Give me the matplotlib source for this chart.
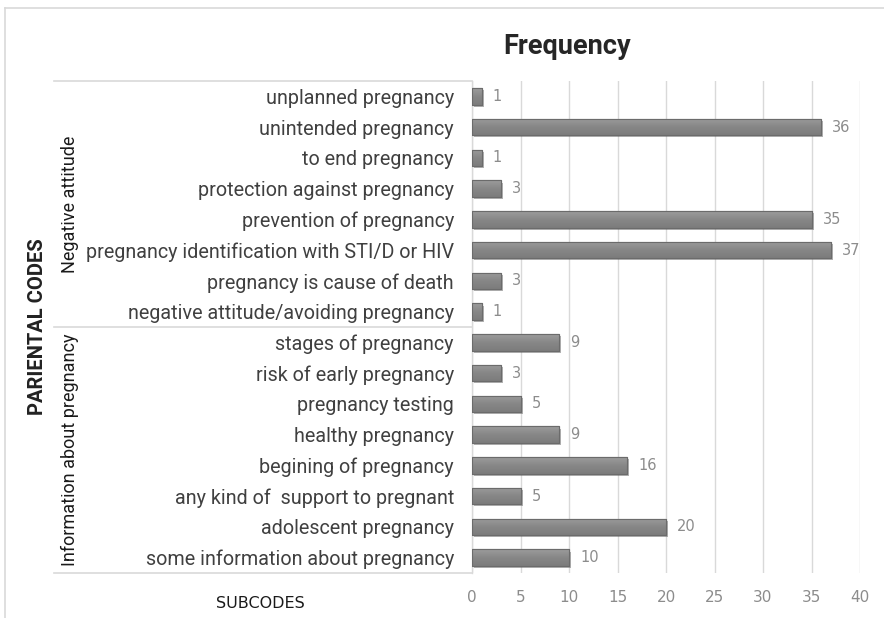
import numpy as np
import matplotlib
matplotlib.use("Agg")
import matplotlib.pyplot as plt
from matplotlib import patheffects as pe
from matplotlib.lines import Line2D

# Sub-codes listed top to bottom, with their frequencies
subcodes = [
    "unplanned pregnancy",
    "unintended pregnancy",
    "to end pregnancy",
    "protection against pregnancy",
    "prevention of pregnancy",
    "pregnancy identification with STI/D or HIV",
    "pregnancy is cause of death",
    "negative attitude/avoiding pregnancy",
    "stages of pregnancy",
    "risk of early pregnancy",
    "pregnancy testing",
    "healthy pregnancy",
    "begining of pregnancy",
    "any kind of  support to pregnant",
    "adolescent pregnancy",
    "some information about pregnancy",
]
frequency = [1, 36, 1, 3, 35, 37, 3, 1, 9, 3, 5, 9, 16, 5, 20, 10]

# Parent codes and how many sub-codes each one covers (top to bottom)
parent_codes = ["Negative attitude", "Information about pregnancy"]
parent_sizes = [8, 8]

x_ticks = [0, 5, 10, 15, 20, 25, 30, 35, 40]

W, H = 884, 618
fig = plt.figure(figsize=(W / 100, H / 100), dpi=100)
fig.patch.set_facecolor("white")

def fx(px):
    return px / W

def fy(py):
    return 1 - py / H

ax_left, ax_right, ax_top, ax_bot = 472, 860, 81, 573
ax = fig.add_axes([fx(ax_left), fy(ax_bot), fx(ax_right - ax_left), (ax_bot - ax_top) / H])

n = len(subcodes)
ypos = np.arange(n)
bars = ax.barh(ypos, frequency, height=0.53, color="#8d8d8d", edgecolor="#6b6b6b",
               linewidth=0.8, zorder=3)

# soft vertical shading and drop shadow on each bar
grad = np.linspace(0, 1, 64).reshape(-1, 1)
shade = matplotlib.colors.LinearSegmentedColormap.from_list("g", ["#9c9c9c", "#878787", "#7c7c7c"])
for b in bars:
    b.set_path_effects([pe.SimplePatchShadow(offset=(1.5, -1.5), shadow_rgbFace="#555555", alpha=0.45),
                        pe.Normal()])
    x0, y0 = b.get_x(), b.get_y()
    w, h = b.get_width(), b.get_height()
    im = ax.imshow(grad, cmap=shade, extent=[x0, x0 + w, y0 + h, y0], aspect="auto",
                   zorder=3.5, interpolation="bilinear")
    im.set_clip_path(b)
    ax.add_patch(matplotlib.patches.Rectangle((x0, y0), w, h, fill=False, edgecolor="#6b6b6b",
                                              linewidth=0.8, zorder=4))

num_font = ["Liberation Sans Narrow", "DejaVu Sans"]
label_font = ["Roboto", "DejaVu Sans"]
for y, v in zip(ypos, frequency):
    ax.annotate(str(v), (v, y), xytext=(8, 0), textcoords="offset points",
                va="center", ha="left", fontsize=10.5, color="#8c8c8c", family=num_font)

ax.set_xlim(0, 40)
ax.set_ylim(n - 0.5, -0.5)
ax.set_xticks(x_ticks)
ax.set_xticklabels([str(t) for t in x_ticks], family=num_font, fontsize=11, color="#8c8c8c")
ax.tick_params(axis="x", length=0, pad=12)
ax.set_yticks(ypos)
ax.set_yticklabels(subcodes, family=label_font, fontsize=14.2, color="#404040")
ax.tick_params(axis="y", length=0, pad=13)
ax.grid(axis="x", color="#d9d9d9", linewidth=1, zorder=0)
for s in ["top", "right", "bottom"]:
    ax.spines[s].set_visible(False)
ax.spines["left"].set_color("#d9d9d9")
ax.spines["left"].set_linewidth(1)
ax.set_facecolor("none")

# horizontal rules around the parent-code groups
rule_left = 54
edges = [0]
for s in parent_sizes:
    edges.append(edges[-1] + s)
row_px = (ax_bot - ax_top) / n
for e in edges:
    yy = ax_top + e * row_px
    fig.add_artist(Line2D([fx(rule_left), fx(ax_left)], [fy(yy), fy(yy)],
                          color="#d9d9d9", linewidth=1.2))

for name, a, b in zip(parent_codes, edges[:-1], edges[1:]):
    yc = ax_top + (a + b) / 2 * row_px
    fig.text(fx(70), fy(yc), name, rotation=90, ha="center", va="center",
             fontsize=13, color="#1a1a1a", family=label_font)

fig.text(fx(38), fy((ax_top + ax_bot) / 2), "PARIENTAL CODES", rotation=90, ha="center",
         va="center", fontsize=14.5, fontweight="bold", color="#222222", family=label_font)

fig.text(fx(567), fy(46), "Frequency", ha="center", va="center", fontsize=19.5,
         fontweight="bold", color="#262626", family=label_font)

fig.text(fx(260), fy(603), "SUBCODES", ha="center", va="center", fontsize=11.5,
         color="#1a1a1a", family=num_font)

# light frame around the chart area
fig.add_artist(Line2D([fx(5), fx(5)], [fy(8), 0], color="#d9d9d9", linewidth=1.2))
fig.add_artist(Line2D([fx(5), 1], [fy(8), fy(8)], color="#d9d9d9", linewidth=1.2))

fig.savefig("out.png", dpi=100, facecolor="white")
